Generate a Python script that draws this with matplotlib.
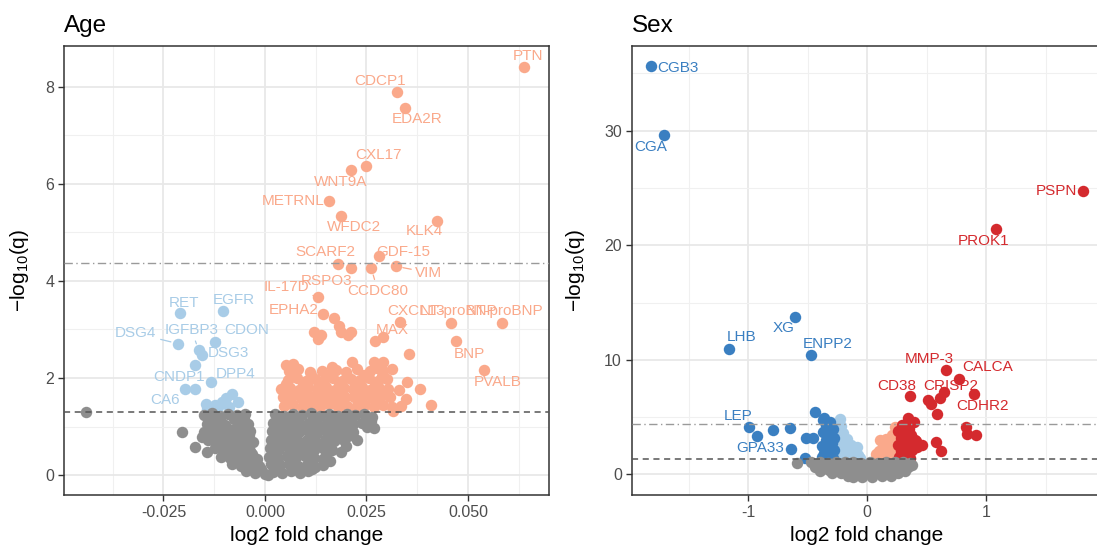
import matplotlib
matplotlib.use("Agg")
import matplotlib.pyplot as plt
from matplotlib.ticker import FixedLocator

plt.rcParams['font.family'] = ['Liberation Sans', 'DejaVu Sans']
plt.rcParams['mathtext.fontset'] = 'custom'
plt.rcParams['mathtext.rm'] = 'Liberation Sans'
plt.rcParams['mathtext.default'] = 'regular'

# ---------------- Age panel data (log2 fold change, -log10 q) ----------------
age_ns = [
    (-0.0150, 1.24), (-0.0130, 1.27), (-0.0110, 1.22), (-0.0090, 1.26), (-0.0068, 1.23), (-0.0050, 1.25),
    (-0.0142, 1.06), (-0.0121, 1.10), (-0.0099, 1.04), (-0.0062, 1.08), (-0.0041, 1.05),
    (-0.0149, 0.88), (-0.0127, 0.92), (-0.0104, 0.86), (-0.0082, 0.90), (-0.0058, 0.87), (-0.0036, 0.91),
    (-0.0139, 0.72), (-0.0117, 0.69), (-0.0095, 0.74), (-0.0072, 0.70), (-0.0050, 0.73), (-0.0029, 0.68),
    (-0.0124, 0.55), (-0.0102, 0.52), (-0.0080, 0.56), (-0.0058, 0.53), (-0.0036, 0.50),
    (-0.0107, 0.38), (-0.0086, 0.35), (-0.0064, 0.39), (-0.0042, 0.36), (-0.0020, 0.33),
    (-0.0080, 0.22), (-0.0058, 0.19), (-0.0036, 0.23), (-0.0014, 0.18),
    (-0.0046, 0.08), (-0.0024, 0.05), (0.0000, 0.02), (-0.0010, 0.12),
    (-0.0139, 1.16), (-0.0110, 1.15), (-0.0077, 1.16), (-0.0052, 1.15),
    (-0.0138, 0.98), (-0.0115, 0.99), (-0.0093, 0.97), (-0.0070, 0.98), (-0.0047, 0.99),
    (-0.0128, 0.80), (-0.0106, 0.81), (-0.0083, 0.79), (-0.0061, 0.80), (-0.0039, 0.82),
    (-0.0113, 0.63), (-0.0091, 0.64), (-0.0069, 0.62), (-0.0047, 0.63),
    (-0.0097, 0.46), (-0.0075, 0.45), (-0.0053, 0.47), (-0.0031, 0.44),
    (-0.0069, 0.29), (-0.0047, 0.28), (-0.0025, 0.27), (-0.0035, 0.13),
    (-0.0441, 1.29), (-0.0204, 0.88), (-0.0171, 0.58), (-0.0143, 0.48), (-0.0155, 0.78),
    (0.0025, 1.25), (0.0047, 1.22), (0.0069, 1.26), (0.0091, 1.23), (0.0113, 1.27), (0.0135, 1.22),
    (0.0157, 1.25), (0.0179, 1.21), (0.0201, 1.26), (0.0223, 1.23), (0.0245, 1.25), (0.0264, 1.20),
    (0.0036, 1.16), (0.0080, 1.15), (0.0124, 1.17), (0.0168, 1.14), (0.0212, 1.16), (0.0254, 1.17),
    (0.0020, 1.07), (0.0042, 1.04), (0.0064, 1.09), (0.0086, 1.05), (0.0108, 1.08), (0.0130, 1.03),
    (0.0152, 1.07), (0.0174, 1.04), (0.0196, 1.09), (0.0218, 1.05), (0.0240, 1.08), (0.0262, 1.12),
    (0.0031, 0.98), (0.0075, 0.97), (0.0119, 0.99), (0.0163, 0.96), (0.0207, 0.98), (0.0251, 1.00),
    (0.0018, 0.90), (0.0040, 0.87), (0.0062, 0.92), (0.0084, 0.88), (0.0106, 0.91), (0.0128, 0.86),
    (0.0150, 0.90), (0.0172, 0.87), (0.0194, 0.92), (0.0216, 0.88), (0.0268, 0.96),
    (0.0029, 0.81), (0.0073, 0.80), (0.0117, 0.82), (0.0161, 0.79), (0.0205, 0.81),
    (0.0015, 0.72), (0.0037, 0.70), (0.0059, 0.74), (0.0081, 0.71), (0.0103, 0.73), (0.0125, 0.69),
    (0.0147, 0.72), (0.0169, 0.70), (0.0191, 0.74), (0.0226, 0.72),
    (0.0024, 0.63), (0.0068, 0.64), (0.0112, 0.62), (0.0156, 0.63), (0.0200, 0.60),
    (0.0012, 0.55), (0.0034, 0.53), (0.0056, 0.57), (0.0078, 0.54), (0.0100, 0.56), (0.0122, 0.52),
    (0.0144, 0.55), (0.0166, 0.51), (0.0187, 0.47),
    (0.0021, 0.46), (0.0065, 0.47), (0.0109, 0.45), (0.0151, 0.43),
    (0.0010, 0.38), (0.0032, 0.36), (0.0054, 0.40), (0.0076, 0.37), (0.0098, 0.39), (0.0120, 0.35),
    (0.0142, 0.33), (0.0160, 0.30),
    (0.0027, 0.29), (0.0071, 0.30), (0.0115, 0.28),
    (0.0016, 0.22), (0.0038, 0.20), (0.0060, 0.23), (0.0082, 0.19), (0.0104, 0.21), (0.0124, 0.17),
    (0.0142, 0.20),
    (0.0031, 0.14), (0.0075, 0.13), (0.0115, 0.12),
    (0.0020, 0.07), (0.0042, 0.04), (0.0064, 0.08), (0.0086, 0.05), (0.0106, 0.09), (0.0008, 0.00),
]

age_up = [
    (0.0048, 1.42), (0.0070, 1.45), (0.0092, 1.40), (0.0114, 1.44), (0.0136, 1.41), (0.0158, 1.46),
    (0.0180, 1.40), (0.0202, 1.43), (0.0224, 1.41), (0.0246, 1.45), (0.0268, 1.40), (0.0290, 1.44),
    (0.0312, 1.41),
    (0.0059, 1.51), (0.0103, 1.52), (0.0147, 1.50), (0.0191, 1.53), (0.0235, 1.51), (0.0279, 1.52),
    (0.0044, 1.60), (0.0066, 1.63), (0.0088, 1.58), (0.0110, 1.62), (0.0132, 1.59), (0.0154, 1.64),
    (0.0176, 1.58), (0.0198, 1.61), (0.0220, 1.60), (0.0242, 1.63), (0.0264, 1.58), (0.0286, 1.62),
    (0.0308, 1.60),
    (0.0055, 1.69), (0.0099, 1.70), (0.0143, 1.68), (0.0187, 1.71), (0.0231, 1.69), (0.0275, 1.70),
    (0.0040, 1.78), (0.0062, 1.80), (0.0084, 1.76), (0.0106, 1.81), (0.0128, 1.77), (0.0150, 1.82),
    (0.0172, 1.76), (0.0194, 1.79), (0.0216, 1.78), (0.0238, 1.81), (0.0260, 1.76), (0.0282, 1.80),
    (0.0304, 1.78),
    (0.0051, 1.87), (0.0095, 1.88), (0.0139, 1.86), (0.0183, 1.89), (0.0227, 1.87), (0.0271, 1.88),
    (0.0058, 1.96), (0.0080, 1.99), (0.0102, 1.94), (0.0124, 1.98), (0.0146, 1.95), (0.0168, 2.00),
    (0.0190, 1.94), (0.0212, 1.97), (0.0234, 1.96), (0.0256, 1.99), (0.0278, 1.94), (0.0300, 1.98),
    (0.0069, 2.05), (0.0113, 2.06), (0.0157, 2.04), (0.0201, 2.05), (0.0245, 2.07), (0.0289, 2.05),
    (0.0060, 2.14), (0.0082, 2.18), (0.0110, 2.12), (0.0140, 2.14), (0.0175, 2.16), (0.0200, 2.12),
    (0.0228, 2.18), (0.0260, 2.15), (0.0275, 2.20), (0.0290, 2.14), (0.0312, 2.19),
    (0.0052, 2.26), (0.0068, 2.28), (0.0166, 2.23), (0.0215, 2.33), (0.0268, 2.33), (0.0290, 2.33),
    (0.0356, 2.50), (0.0383, 1.78), (0.0410, 1.45), (0.0347, 1.56), (0.0336, 1.42), (0.0351, 1.91),
    (0.0316, 1.33), (0.0330, 1.75),
    (0.0170, 3.24), (0.0183, 3.08), (0.0122, 2.95), (0.0139, 2.88), (0.0187, 2.95), (0.0205, 2.88),
    (0.0213, 2.95), (0.0130, 2.81), (0.0270, 2.77),
]
age_down = [
    (-0.0171, 2.26), (-0.0171, 1.78), (-0.0080, 1.68), (-0.0097, 1.58), (-0.0066, 1.51),
    (-0.0123, 1.44), (-0.0115, 1.40), (-0.0088, 1.40), (-0.0143, 1.37), (-0.0105, 1.50),
]

age_up_names = ['PTN', 'CDCP1', 'EDA2R', 'CXL17', 'WNT9A', 'METRNL', 'WFDC2', 'KLK4', 'SCARF2',
                'GDF-15', 'RSPO3', 'CCDC80', 'VIM', 'IL-17D', 'EPHA2', 'CXCL13', 'NT-proBNP',
                'NT-proBNP', 'MAX', 'BNP', 'PVALB']
age_up_hits = [(0.0639, 8.41), (0.0326, 7.89), (0.0345, 7.57), (0.0249, 6.36), (0.0213, 6.28),
               (0.0158, 5.65), (0.0188, 5.34), (0.0424, 5.24), (0.0179, 4.35), (0.0281, 4.52),
               (0.0213, 4.26), (0.0262, 4.26), (0.0323, 4.30), (0.0130, 3.67), (0.0144, 3.32),
               (0.0332, 3.15), (0.0459, 3.14), (0.0583, 3.14), (0.0292, 2.84), (0.0470, 2.76),
               (0.0539, 2.17)]
age_down_names = ['RET', 'EGFR', 'DSG4', 'IGFBP3', 'CDON', 'DSG3', 'CNDP1', 'DPP4', 'CA6']
age_down_hits = [(-0.0208, 3.34), (-0.0104, 3.39), (-0.0215, 2.71), (-0.0163, 2.57), (-0.0123, 2.75),
                 (-0.0154, 2.47), (-0.0198, 1.78), (-0.0132, 1.92), (-0.0145, 1.46)]

# label placement (text centres)
age_up_text = [(0.0649, 8.63), (0.0283, 8.12), (0.0376, 7.34), (0.0281, 6.59), (0.0187, 6.04),
               (0.0070, 5.65), (0.0219, 5.12), (0.0393, 5.02), (0.0149, 4.60), (0.0341, 4.60),
               (0.0153, 3.99), (0.0278, 3.80), (0.0404, 4.17), (0.0052, 3.87), (0.0070, 3.40),
               (0.0373, 3.39), (0.0477, 3.39), (0.0591, 3.39), (0.0313, 2.98), (0.0504, 2.50),
               (0.0574, 1.92)]
age_down_text = [(-0.0199, 3.54), (-0.0076, 3.61), (-0.0318, 2.92), (-0.0181, 2.99), (-0.0045, 2.99),
                 (-0.0089, 2.51), (-0.0212, 2.02), (-0.0071, 2.08), (-0.0247, 1.55)]
age_segments = {'VIM', 'IL-17D', 'CCDC80', 'DSG4', 'IGFBP3', 'CDON'}

# ---------------- Sex panel data ----------------
sex_ns = [
    (-0.47, 1.05), (-0.40, 1.10), (-0.33, 1.02), (-0.26, 1.08), (-0.19, 1.04), (-0.12, 1.10),
    (-0.05, 1.02), (0.02, 1.07), (0.09, 1.03), (0.16, 1.09), (0.23, 1.04), (0.30, 1.08), (0.36, 1.02),
    (-0.44, 0.60), (-0.36, 0.55), (-0.28, 0.62), (-0.20, 0.57), (-0.12, 0.60), (-0.04, 0.54),
    (0.04, 0.59), (0.12, 0.56), (0.20, 0.61), (0.28, 0.55), (0.34, 0.60),
    (-0.40, 0.30), (-0.32, 0.35), (-0.24, 0.28), (-0.16, 0.33), (-0.08, 0.30), (0.00, 0.34),
    (0.08, 0.29), (0.16, 0.32), (0.24, 0.30), (0.32, 0.33),
    (-0.30, 0.15), (-0.22, 0.12), (-0.14, 0.18), (-0.06, 0.10), (0.02, 0.14), (0.10, 0.11),
    (0.18, 0.16), (0.26, 0.13),
    (-0.16, -0.15), (-0.12, -0.20), (-0.04, -0.25), (0.04, -0.22), (0.12, -0.18), (0.20, -0.10),
    (-0.59, 0.96), (0.38, 0.81),
]
sex_down_ns = [
    (-0.23, 4.80), (-0.25, 4.50), (-0.22, 4.20), (-0.26, 3.80), (-0.20, 3.60), (-0.24, 3.20),
    (-0.17, 3.10), (-0.21, 2.70), (-0.14, 2.60), (-0.25, 2.40), (-0.18, 2.20), (-0.11, 2.10),
    (-0.22, 1.90), (-0.15, 1.80), (-0.08, 1.70), (-0.26, 1.60), (-0.19, 1.50), (-0.12, 1.45),
    (-0.06, 1.40), (-0.09, 2.40),
]
sex_up_ns = [
    (0.08, 1.50), (0.12, 1.45), (0.17, 1.40), (0.22, 1.50), (0.10, 2.00), (0.15, 1.90),
    (0.20, 2.00), (0.24, 2.20), (0.13, 2.50), (0.18, 2.60), (0.22, 2.90), (0.16, 3.10),
    (0.21, 3.40), (0.24, 3.80), (0.23, 4.10), (0.07, 1.80), (0.11, 3.00),
]
sex_down = [
    (-0.36, 4.90), (-0.31, 4.60), (-0.35, 4.20), (-0.29, 4.00), (-0.37, 3.70), (-0.32, 3.50),
    (-0.28, 3.20), (-0.35, 3.00), (-0.30, 2.70), (-0.38, 2.50), (-0.33, 2.30), (-0.28, 2.10),
    (-0.36, 1.90), (-0.31, 1.70), (-0.38, 1.50), (-0.29, 1.45), (-0.34, 1.35),
    (-0.440, 5.45), (-0.369, 4.78), (-0.513, 3.19), (-0.455, 3.19), (-0.527, 1.45),
    (-0.924, 3.33), (-0.795, 3.91), (-0.651, 4.06),
]
sex_up = [
    (0.27, 1.50), (0.31, 1.45), (0.36, 1.40), (0.28, 2.00), (0.33, 1.90), (0.38, 2.10),
    (0.26, 2.60), (0.30, 2.50), (0.35, 2.70), (0.28, 3.20), (0.33, 3.10), (0.37, 3.40),
    (0.26, 3.80), (0.31, 3.70), (0.35, 4.00), (0.29, 4.30), (0.345, 4.93), (0.394, 4.55),
    (0.40, 3.00), (0.42, 2.40),
    (0.515, 6.52), (0.538, 6.17), (0.610, 6.67), (0.590, 5.28), (0.834, 4.15), (0.840, 3.48),
    (0.912, 3.42), (0.581, 2.84), (0.616, 2.03), (0.458, 2.55), (0.408, 2.90),
]
sex_down_names = ['CGB3', 'CGA', 'XG', 'LHB', 'ENPP2', 'LEP', 'GPA33']
sex_down_hits = [(-1.817, 35.65), (-1.707, 29.65), (-0.605, 13.77), (-1.163, 10.96),
                 (-0.470, 10.41), (-0.993, 4.15), (-0.642, 2.23)]
sex_up_names = ['PSPN', 'PROK1', 'MMP-3', 'CALCA', 'CD38', 'CRISP2', 'CDHR2']
sex_up_hits = [(1.813, 24.72), (1.079, 21.39), (0.661, 9.07), (0.768, 8.32), (0.359, 6.81),
               (0.647, 7.16), (0.898, 7.04)]
sex_down_text = [(-1.591, 35.5), (-1.816, 28.55), (-0.705, 12.75), (-1.059, 11.97),
                 (-0.331, 11.39), (-1.088, 5.13), (-0.901, 2.32)]
sex_up_text = [(1.589, 24.70), (0.976, 20.40), (0.524, 10.06), (1.013, 9.36), (0.245, 7.68),
               (0.702, 7.68), (0.970, 5.94)]

q_line = 1.3
bonf_line = 4.37

GRAY = '#8E8E8E'
SALMON = '#FAA98B'
LBLUE = '#A8CCE7'
DBLUE = '#3A7FC1'
DRED = '#D42A2E'
PT = 68


def xy(pts):
    return [p[0] for p in pts], [p[1] for p in pts]


def style(ax, xmaj, xmin, ymaj, ymin, xlabels):
    ax.xaxis.set_major_locator(FixedLocator(xmaj))
    ax.xaxis.set_minor_locator(FixedLocator(xmin))
    ax.yaxis.set_major_locator(FixedLocator(ymaj))
    ax.yaxis.set_minor_locator(FixedLocator(ymin))
    ax.set_xticklabels(xlabels)
    ax.grid(which='major', color='#E8E8E8', lw=1.3)
    ax.grid(which='minor', color='#F0F0F0', lw=0.8)
    ax.set_axisbelow(True)
    ax.tick_params(which='major', length=4, width=1, color='#333333', labelcolor='#4D4D4D',
                   labelsize=11.5, pad=3)
    ax.tick_params(which='minor', length=0)
    for s in ax.spines.values():
        s.set_color('#333333')
        s.set_linewidth(1.1)
    ax.axhline(q_line, color='#555555', lw=1.1, ls=(0, (4, 3)), zorder=4)
    ax.axhline(bonf_line, color='#9A9A9A', lw=1.0, ls=(0, (6, 2.5, 1, 2.5)), zorder=4)
    ax.set_xlabel('log2 fold change', fontsize=15)
    ax.set_ylabel('\u2212log$_{10}$(q)', fontsize=15)


def labels(ax, names, hits, texts, color, segs=()):
    for name, (px, py), (lx, ly) in zip(names, hits, texts):
        if name in segs:
            ax.annotate(name, xy=(px, py), xytext=(lx, ly), color=color, fontsize=11,
                        ha='center', va='center', zorder=6,
                        arrowprops=dict(arrowstyle='-', color=color, lw=0.9, shrinkA=1, shrinkB=5))
        else:
            ax.text(lx, ly, name, color=color, fontsize=11, ha='center', va='center', zorder=6)


fig = plt.figure(figsize=(10.97, 5.49), dpi=100)
ax1 = fig.add_axes([0.0583, 0.0984, 0.4426, 0.8179])
ax2 = fig.add_axes([0.5758, 0.0984, 0.4284, 0.8179])

# Age
for pts, c in [(age_up, SALMON), (age_up_hits, SALMON), (age_down, LBLUE), (age_down_hits, LBLUE),
               (age_ns, GRAY)]:
    x, y = xy(pts)
    ax1.scatter(x, y, s=PT, color=c, linewidths=0, zorder=3)
labels(ax1, age_up_names, age_up_hits, age_up_text, SALMON, age_segments)
labels(ax1, age_down_names, age_down_hits, age_down_text, LBLUE, age_segments)
ax1.set_xlim(-0.0495, 0.0701)
ax1.set_ylim(-0.41, 8.84)
style(ax1, [-0.025, 0, 0.025, 0.05], [-0.0375, -0.0125, 0.0125, 0.0375, 0.0625],
      [0, 2, 4, 6, 8], [1, 3, 5, 7], ['-0.025', '0.000', '0.025', '0.050'])
ax1.set_title('Age', loc='left', fontsize=17.5, pad=10)

# Sex
for pts, c in [(sex_down_ns, LBLUE), (sex_up_ns, SALMON), (sex_down, DBLUE), (sex_down_hits, DBLUE),
               (sex_up, DRED), (sex_up_hits, DRED), (sex_ns, GRAY)]:
    x, y = xy(pts)
    ax2.scatter(x, y, s=PT, color=c, linewidths=0, zorder=3)
labels(ax2, sex_down_names, sex_down_hits, sex_down_text, DBLUE)
labels(ax2, sex_up_names, sex_up_hits, sex_up_text, DRED)
ax2.set_xlim(-1.98, 1.97)
ax2.set_ylim(-1.8, 37.4)
style(ax2, [-1, 0, 1], [-1.5, -0.5, 0.5, 1.5], [0, 10, 20, 30], [5, 15, 25, 35], ['-1', '0', '1'])
ax2.set_title('Sex', loc='left', fontsize=17.5, pad=10)

ax1.yaxis.set_label_coords(-0.068, 0.5)
ax2.yaxis.set_label_coords(-0.095, 0.5)
ax1.xaxis.set_label_coords(0.5, -0.068)
ax2.xaxis.set_label_coords(0.5, -0.068)

fig.savefig('out.png', dpi=100)
